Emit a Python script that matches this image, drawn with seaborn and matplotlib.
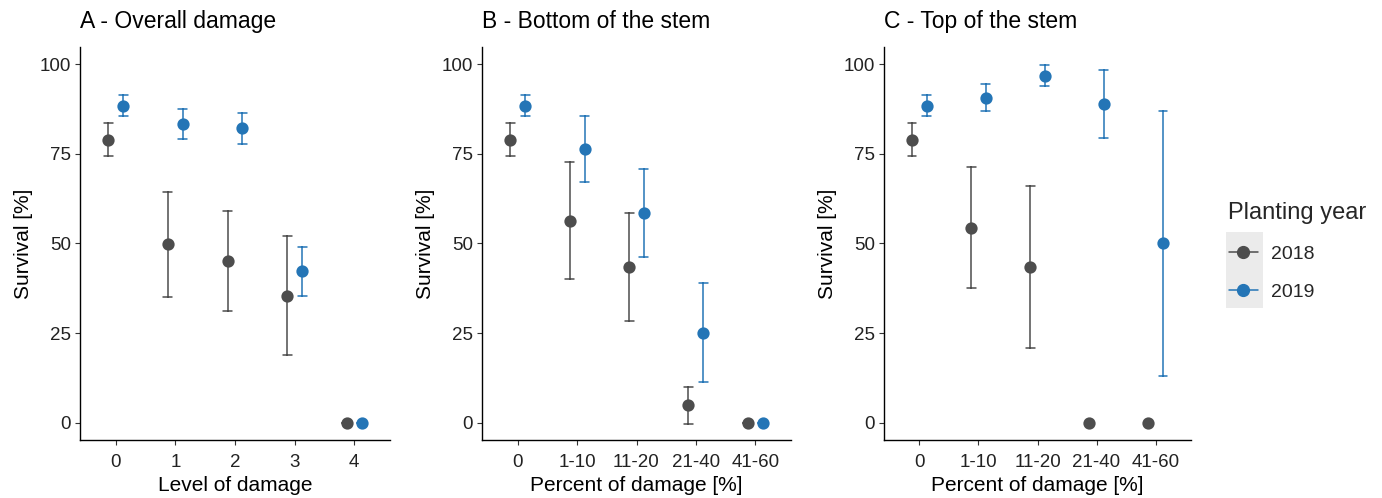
import numpy as np
import pandas as pd
import matplotlib
matplotlib.use("Agg")
import matplotlib.pyplot as plt
from matplotlib.lines import Line2D
from matplotlib.patches import Rectangle
import seaborn as sns

# ---------------- data ----------------
years = ["2018", "2019"]
colors = {"2018": "#4d4d4d", "2019": "#2475b6"}

cats_A = ["0", "1", "2", "3", "4"]
cats_BC = ["0", "1-10", "11-20", "21-40", "41-60"]

titles = ["A - Overall damage", "B - Bottom of the stem", "C - Top of the stem"]
xlabels = ["Level of damage", "Percent of damage [%]", "Percent of damage [%]"]

# Panel A
A_2018_mean = [79.0, 49.8, 45.2, 35.4, 0.0]
A_2018_lo = [74.4, 35.2, 31.1, 18.9, 0.0]
A_2018_hi = [83.5, 64.3, 59.2, 52.0, 0.0]
A_2019_mean = [88.4, 83.3, 82.1, 42.3, 0.0]
A_2019_lo = [85.5, 79.2, 77.7, 35.3, 0.0]
A_2019_hi = [91.4, 87.4, 86.5, 49.1, 0.0]

# Panel B
B_2018_mean = [79.0, 56.3, 43.5, 4.9, 0.0]
B_2018_lo = [74.4, 40.2, 28.4, -0.4, 0.0]
B_2018_hi = [83.5, 72.6, 58.6, 9.9, 0.0]
B_2019_mean = [88.4, 76.3, 58.5, 25.1, 0.0]
B_2019_lo = [85.5, 67.2, 46.1, 11.3, 0.0]
B_2019_hi = [91.4, 85.5, 70.8, 39.1, 0.0]

# Panel C
C_2018_mean = [79.0, 54.4, 43.4, 0.0, 0.0]
C_2018_lo = [74.4, 37.5, 20.8, 0.0, 0.0]
C_2018_hi = [83.5, 71.3, 66.0, 0.0, 0.0]
C_2019_mean = [88.4, 90.7, 96.8, 88.9, 50.0]
C_2019_lo = [85.5, 86.9, 94.0, 79.5, 13.1]
C_2019_hi = [91.4, 94.5, 99.7, 98.3, 86.9]

panels = [
    (cats_A, {"2018": (A_2018_mean, A_2018_lo, A_2018_hi), "2019": (A_2019_mean, A_2019_lo, A_2019_hi)}),
    (cats_BC, {"2018": (B_2018_mean, B_2018_lo, B_2018_hi), "2019": (B_2019_mean, B_2019_lo, B_2019_hi)}),
    (cats_BC, {"2018": (C_2018_mean, C_2018_lo, C_2018_hi), "2019": (C_2019_mean, C_2019_lo, C_2019_hi)}),
]

def long_frame(cats, series):
    rows = []
    for yr in years:
        m, lo, hi = series[yr]
        for c, a, b, d in zip(cats, m, lo, hi):
            for v in (b, a, d):
                rows.append({"cat": c, "year": yr, "surv": v})
    return pd.DataFrame(rows)

# ---------------- style ----------------
sns.set_theme(style="ticks")
plt.rcParams["font.family"] = ["Liberation Sans", "DejaVu Sans"]

W, H = 1382, 498
fig = plt.figure(figsize=(W / 100, H / 100), dpi=100)

axes_px = [(80, 390), (482, 791), (884, 1191)]
top_px, bot_px = 47, 440

for i, ((cats, series), (x0, x1)) in enumerate(zip(panels, axes_px)):
    ax = fig.add_axes([x0 / W, (H - bot_px) / H, (x1 - x0) / W, (bot_px - top_px) / H])
    df = long_frame(cats, series)
    sns.pointplot(
        data=df, x="cat", y="surv", hue="year", order=cats, hue_order=years,
        palette=colors, estimator="median",
        errorbar=lambda v: (v.min(), v.max()),
        dodge=0.25, linestyle="none", markers="o", markersize=6.8,
        err_kws={"linewidth": 1.1}, capsize=0.15, ax=ax, legend=False,
    )
    ax.set_ylim(-4.8, 104.8)
    ax.set_xlim(-0.6, 4.6)
    ax.set_yticks([0, 25, 50, 75, 100])
    ax.set_ylabel("Survival [%]", fontsize=15, color="black", labelpad=5)
    ax.set_xlabel(xlabels[i], fontsize=15, color="black", labelpad=4)
    ax.set_title(titles[i], loc="left", fontsize=16.5, pad=13.5, color="black")
    for s in ["top", "right"]:
        ax.spines[s].set_visible(False)
    for s in ["left", "bottom"]:
        ax.spines[s].set_linewidth(1.0)
        ax.spines[s].set_color("black")
    ax.tick_params(axis="both", labelsize=13.5, colors="#333333", length=3.5, width=0.8, pad=3)
    ax.tick_params(axis="x", pad=6.5)
    for lab in ax.get_xticklabels() + ax.get_yticklabels():
        lab.set_color("#222222")

# legend
handles = [Line2D([0], [0], color=colors[y], marker="o", markersize=8.5, linewidth=1.1) for y in years]
fig.patches.append(Rectangle((1226 / W, (H - 308) / H), 37 / W, 76 / H,
                             transform=fig.transFigure, facecolor="#ebebeb", edgecolor="none", zorder=0))
leg = fig.legend(handles, years, loc="upper left", bbox_to_anchor=(1211 / W, (H - 185) / H),
                 frameon=False, fontsize=14, title="Planting year", title_fontsize=17,
                 handlelength=1.5, handletextpad=0.7, labelspacing=1.05, alignment="left")

fig.savefig("out.png", dpi=100)
